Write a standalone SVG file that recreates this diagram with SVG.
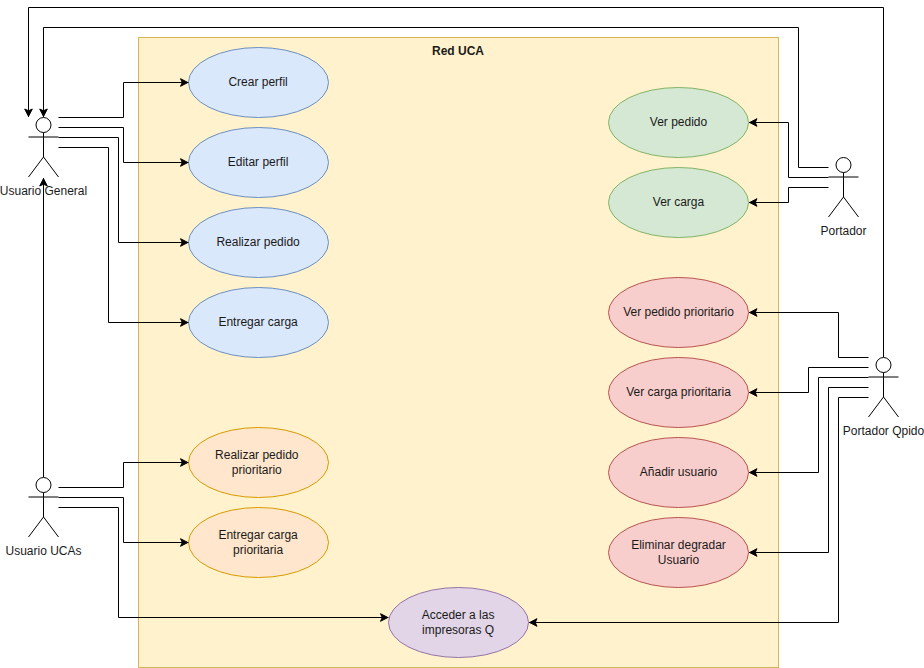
<svg xmlns="http://www.w3.org/2000/svg" width="924" height="668" viewBox="0 0 924 668">
<style>
text{font-family:"Liberation Sans",Arial,sans-serif;font-size:12px;fill:#1a1a1a;text-anchor:middle}
.blue{fill:#dae8fc;stroke:#6c8ebf}
.green{fill:#d5e8d4;stroke:#82b366}
.red{fill:#f8cecc;stroke:#b85450}
.orange{fill:#ffe6cc;stroke:#d79b00}
.purple{fill:#e1d5e7;stroke:#9673a6}
.actor{fill:none;stroke:#000;stroke-width:1}
.head{fill:#fff;stroke:#000;stroke-width:1}
#connectors path{fill:none;stroke:#000;stroke-width:1}
.arr{marker-end:url(#classic)}
</style>
<defs>
<marker id="classic" markerUnits="userSpaceOnUse" markerWidth="12" markerHeight="12" refX="8.6" refY="5" orient="auto" overflow="visible">
<path d="M8,5 L0.6,1.2 L2.4,5 L0.6,8.8 Z" fill="#000" stroke="#000" stroke-width="1"/>
</marker>
<g id="stick">
<circle class="head" cx="15" cy="8" r="7.5"/>
<path class="actor" d="M15,15.5V40M0,20H30M0,60L15,40L30,60"/>
</g>
</defs>
<rect width="924" height="668" fill="#fff"/>
<g id="red-uca">
<rect x="138.5" y="37.5" width="640" height="630" fill="#fff2cc" stroke="#d6b656"/>
<text x="458" y="55" font-weight="bold">Red UCA</text>
</g>
<g id="crear-perfil"><ellipse class="blue" cx="258.5" cy="82.5" rx="70" ry="35"/><text x="258.1" y="86">Crear perfil</text></g>
<g id="editar-perfil"><ellipse class="blue" cx="258.5" cy="162.5" rx="70" ry="35"/><text x="258.1" y="166">Editar perfil</text></g>
<g id="realizar-pedido"><ellipse class="blue" cx="258.5" cy="242.5" rx="70" ry="35"/><text x="258.1" y="246">Realizar pedido</text></g>
<g id="entregar-carga"><ellipse class="blue" cx="258.5" cy="322.5" rx="70" ry="35"/><text x="258.1" y="326">Entregar carga</text></g>
<g id="realizar-pedido-prioritario"><ellipse class="orange" cx="258.5" cy="462.5" rx="70" ry="35"/><text x="256.8" y="459">Realizar pedido</text><text x="256.8" y="474">prioritario</text></g>
<g id="entregar-carga-prioritaria"><ellipse class="orange" cx="258.5" cy="542.5" rx="70" ry="35"/><text x="258.1" y="539">Entregar carga</text><text x="258.1" y="554">prioritaria</text></g>
<g id="acceder-impresoras"><ellipse class="purple" cx="458.5" cy="622.5" rx="70" ry="35"/><text x="458.1" y="619">Acceder a las</text><text x="458.1" y="634">impresoras Q</text></g>
<g id="ver-pedido"><ellipse class="green" cx="678.5" cy="122.5" rx="70" ry="35"/><text x="678.5" y="126">Ver pedido</text></g>
<g id="ver-carga"><ellipse class="green" cx="678.5" cy="202.5" rx="70" ry="35"/><text x="678.5" y="206">Ver carga</text></g>
<g id="ver-pedido-prioritario"><ellipse class="red" cx="678.5" cy="312.5" rx="70" ry="35"/><text x="678.5" y="316">Ver pedido prioritario</text></g>
<g id="ver-carga-prioritaria"><ellipse class="red" cx="678.5" cy="392.5" rx="70" ry="35"/><text x="678.5" y="396">Ver carga prioritaria</text></g>
<g id="anadir-usuario"><ellipse class="red" cx="678.5" cy="472.5" rx="70" ry="35"/><text x="678.5" y="476">Añadir usuario</text></g>
<g id="eliminar-degradar"><ellipse class="red" cx="678.5" cy="552.5" rx="70" ry="35"/><text x="678.5" y="549">Eliminar degradar</text><text x="678.5" y="564">Usuario</text></g>
<g id="usuario-general"><use href="#stick" x="28.5" y="117"/><text x="43.5" y="195">Usuario General</text></g>
<g id="usuario-ucas"><use href="#stick" x="28.5" y="477"/><text x="43.5" y="555">Usuario UCAs</text></g>
<g id="portador"><use href="#stick" x="828.5" y="157"/><text x="843.5" y="235">Portador</text></g>
<g id="portador-qpido"><use href="#stick" x="868.5" y="357"/><text x="883.5" y="435">Portador Qpido</text></g>
<g id="connectors">
<path class="arr" d="M58.5,117.5H123.5V82.5H188.5"/>
<path class="arr" d="M58.5,127.5H123.5V162.5H188.5"/>
<path class="arr" d="M58.5,137.5H118.5V242.5H188.5"/>
<path class="arr" d="M58.5,147.5H108.5V322.5H188.5"/>
<path class="arr" d="M43.5,477V178"/>
<path class="arr" d="M58.5,487.5H123.5V462.5H188.5"/>
<path class="arr" d="M58.5,497.5H123.5V542.5H188.5"/>
<path class="arr" d="M58.5,507.5H118.5V617.5H388.5"/>
<path class="arr" d="M828.5,167.5H798.5V27.5H43.5V117"/>
<path class="arr" d="M828.5,177.5H788.5V122.5H749"/>
<path class="arr" d="M828.5,187.5H788.5V202.5H749"/>
<path class="arr" d="M883.5,357V7.5H28.5V117"/>
<path class="arr" d="M868.5,357.5H838.5V312.5H749"/>
<path class="arr" d="M868.5,367.5H808.5V392.5H749"/>
<path class="arr" d="M868.5,377.5H818.5V472.5H749"/>
<path class="arr" d="M868.5,387.5H828.5V552.5H749"/>
<path class="arr" d="M868.5,397.5H838.5V622.5H529"/>
</g>
</svg>
